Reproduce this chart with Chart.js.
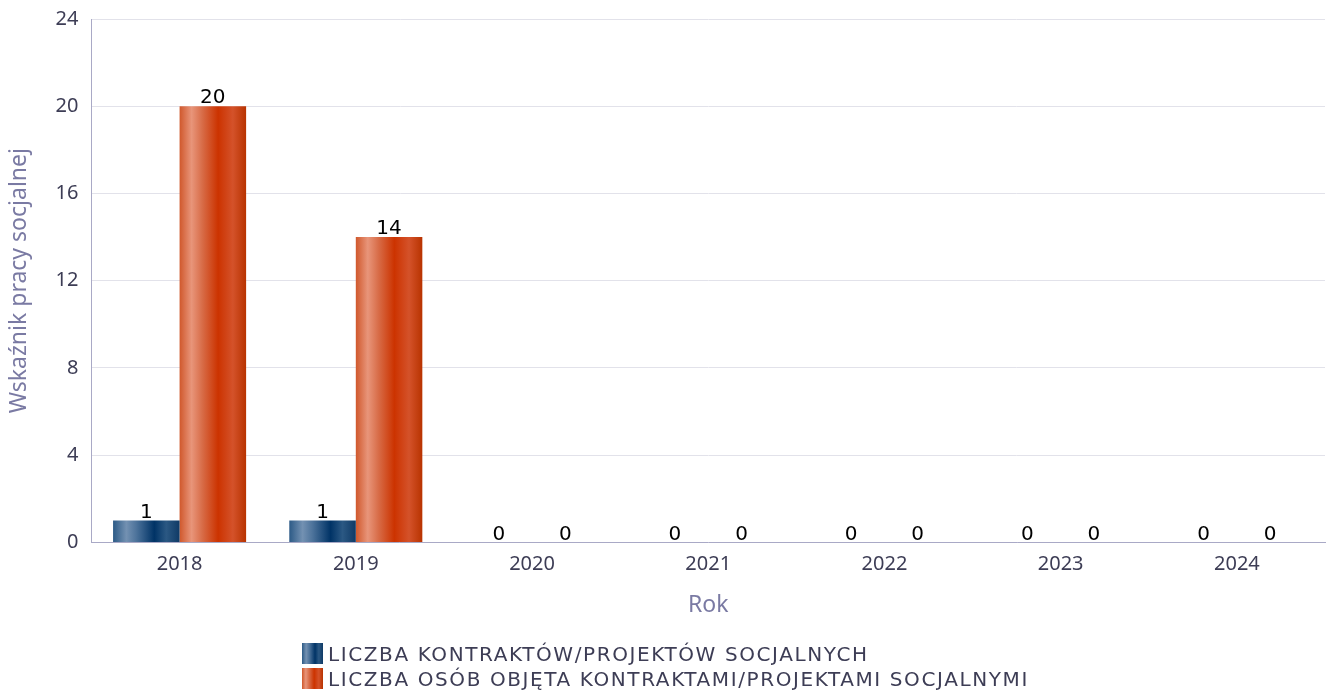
<!DOCTYPE html>
<html>
<head>
<meta charset="utf-8">
<script src="https://cdn.jsdelivr.net/npm/chart.js@4"></script>
<style>
  html, body { margin: 0; padding: 0; background: #fff; }
  #wrap { position: relative; width: 1327px; height: 692px; }
  #legend { position: absolute; left: 302px; top: 641px; font-family: "DejaVu Sans", sans-serif; font-size: 20px; letter-spacing: 1.6px; color: #3d3d55; }
  .item { display: flex; align-items: center; height: 25px; }
  .box { width: 21px; height: 21px; margin-right: 5px; }
</style>
</head>
<body>
<div id="wrap">
  <canvas id="chart" width="1327" height="692"></canvas>
  <div id="legend"></div>
</div>
<script>
const years = ['2018', '2019', '2020', '2021', '2022', '2023', '2024'];
const contracts = [1, 1, 0, 0, 0, 0, 0];
const people = [20, 14, 0, 0, 0, 0, 0];
const seriesNames = [
  'LICZBA KONTRAKTÓW/PROJEKTÓW SOCJALNYCH',
  'LICZBA OSÓB OBJĘTA KONTRAKTAMI/PROJEKTAMI SOCJALNYMI'
];
const yTicks = [0, 4, 8, 12, 16, 20, 24];

const catPct = 0.755;
// gradient stops across bar width
const blueStops = [[0, '#2c5a86'], [0.2, '#7391b2'], [0.35, '#4d739b'], [0.62, '#003366'], [0.8, '#2b5883'], [1, '#0f3a66']];
const orangeStops = [[0, '#d0582c'], [0.18, '#e8957a'], [0.35, '#d76a45'], [0.58, '#cc3300'], [0.8, '#d4522a'], [1, '#b83300']];
const allStops = [blueStops, orangeStops];

// horizontal gradient per bar, placed from the x scale
function barGradient(c) {
  const stops = allStops[c.datasetIndex];
  const xs = c.chart.scales.x;
  if (!xs || c.dataIndex === undefined) return stops[3][1];
  const bw = xs.width / years.length * catPct / 2;
  const cx = xs.getPixelForValue(c.dataIndex) + (c.datasetIndex - 0.5) * bw;
  if (!isFinite(bw) || !isFinite(cx) || bw <= 0) return stops[3][1];
  const g = c.chart.ctx.createLinearGradient(cx - bw / 2, 0, cx + bw / 2, 0);
  stops.forEach(s => g.addColorStop(s[0], s[1]));
  return g;
}

const valueLabels = {
  id: 'valueLabels',
  afterDatasetsDraw(chart) {
    const ctx = chart.ctx;
    ctx.save();
    ctx.font = '20px "DejaVu Sans", sans-serif';
    ctx.fillStyle = '#000';
    ctx.textAlign = 'center';
    ctx.textBaseline = 'bottom';
    chart.data.datasets.forEach((ds, i) => {
      chart.getDatasetMeta(i).data.forEach((el, j) => {
        ctx.fillText(String(ds.data[j]), el.x, el.y + 2);
      });
    });
    ctx.restore();
  }
};

new Chart(document.getElementById('chart'), {
  type: 'bar',
  data: {
    labels: years,
    datasets: [
      { label: seriesNames[0], data: contracts, backgroundColor: barGradient },
      { label: seriesNames[1], data: people, backgroundColor: barGradient }
    ]
  },
  options: {
    responsive: false,
    animation: false,
    layout: { padding: { left: 2, right: 2, top: 0, bottom: 69 } },
    datasets: { bar: { categoryPercentage: catPct, barPercentage: 1.0 } },
    plugins: {
      legend: { display: false },
      tooltip: { enabled: false }
    },
    scales: {
      x: {
        grid: { display: false },
        border: { color: '#a9a9c6' },
        ticks: { color: '#3d3d55', font: { family: 'Noto Sans', size: 20 }, padding: 2 },
        title: { display: true, text: 'Rok', color: '#7a7aa3', font: { family: 'Noto Sans', size: 23 }, padding: { top: 13 } }
      },
      y: {
        min: 0,
        max: 24,
        afterBuildTicks(axis) { axis.ticks = yTicks.map(v => ({ value: v })); },
        grid: { color: '#e2e2ea', drawTicks: false },
        border: { color: '#a9a9c6' },
        ticks: { color: '#3d3d55', font: { family: 'Noto Sans', size: 20, lineHeight: 0.6 }, padding: 13 },
        title: { display: true, text: 'Wskaźnik pracy socjalnej', color: '#7a7aa3', font: { family: 'Noto Sans', size: 23 }, padding: { top: 4, bottom: 9 } }
      }
    }
  },
  plugins: [valueLabels]
});

// legend with the same gradients
const legend = document.getElementById('legend');
seriesNames.forEach((name, i) => {
  const item = document.createElement('div');
  item.className = 'item';
  const box = document.createElement('div');
  box.className = 'box';
  box.style.background = 'linear-gradient(to right, ' + allStops[i].map(s => s[1] + ' ' + (s[0] * 100) + '%').join(', ') + ')';
  const txt = document.createElement('span');
  txt.textContent = name;
  item.appendChild(box);
  item.appendChild(txt);
  legend.appendChild(item);
});
</script>
</body>
</html>
